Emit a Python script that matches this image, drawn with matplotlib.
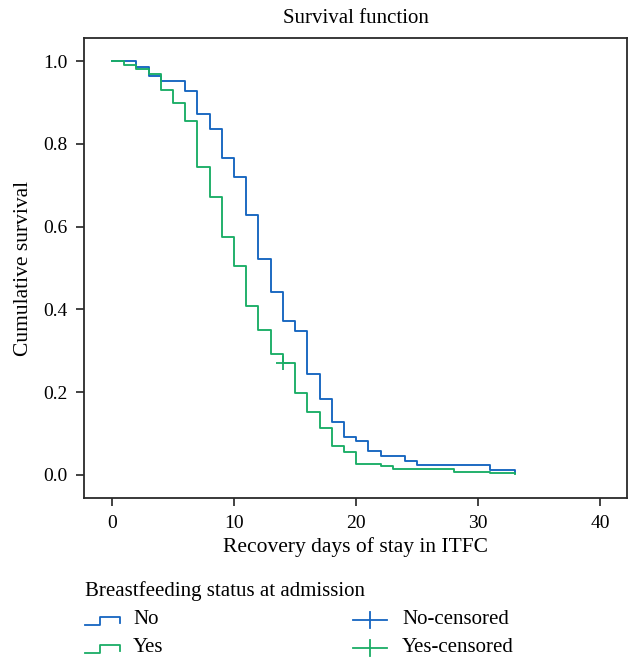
import matplotlib
matplotlib.use("Agg")
import matplotlib.pyplot as plt
from matplotlib.lines import Line2D

plt.rcParams['font.family'] = ['Liberation Serif', 'DejaVu Serif']

# Kaplan-Meier steps
days_no = [0, 2, 3, 4, 6, 7, 8, 9, 10, 11, 12, 13, 14, 15, 16, 17, 18, 19, 20, 21, 22, 24, 25, 31, 33]
surv_no = [1.0, 0.987, 0.964, 0.951, 0.929, 0.872, 0.836, 0.767, 0.720, 0.627, 0.522, 0.442, 0.372,
           0.348, 0.243, 0.184, 0.127, 0.091, 0.081, 0.057, 0.045, 0.034, 0.023, 0.012, 0.005]

days_yes = [0, 1, 2, 3, 4, 5, 6, 7, 8, 9, 10, 11, 12, 13, 14, 15, 16, 17, 18, 19, 20, 22, 23, 28, 31, 33]
surv_yes = [1.0, 0.990, 0.981, 0.968, 0.930, 0.899, 0.855, 0.745, 0.672, 0.575, 0.504, 0.408, 0.350,
            0.293, 0.271, 0.197, 0.151, 0.114, 0.070, 0.055, 0.027, 0.022, 0.014, 0.008, 0.004, 0.002]

cens_yes_day = [14]
cens_yes_surv = [0.271]

xticks = [0, 10, 20, 30, 40]
yticks = [0.0, 0.2, 0.4, 0.6, 0.8, 1.0]

blue = '#1565c0'
green = '#1aad66'

W, H = 632, 657
fig = plt.figure(figsize=(W / 100, H / 100), dpi=100)
ax = fig.add_axes([84 / W, 1 - 498 / H, (627 - 84) / W, (498 - 38) / H])

ax.step(days_no, surv_no, where='post', color=blue, lw=1.35)
ax.step(days_yes, surv_yes, where='post', color=green, lw=1.35)
ax.plot(cens_yes_day, cens_yes_surv, ls='none', marker='+', ms=10, mew=1.3, color=green)

ax.set_xlim(-2.3, 42.2)
ax.set_ylim(-0.056, 1.056)
ax.set_xticks(xticks)
ax.set_yticks(yticks)
ax.set_yticklabels([f'{v:.1f}' for v in yticks])
ax.tick_params(direction='out', length=6, width=1.2, labelsize=14, color='#222222', pad=6)
for s in ax.spines.values():
    s.set_linewidth(1.3)
    s.set_color('#2a2a2a')

ax.set_title('Survival function', fontsize=15, pad=11)
ax.set_xlabel('Recovery days of stay in ITFC', fontsize=15.5, labelpad=4)
ax.set_ylabel('Cumulative survival', fontsize=15.5, labelpad=7)

# legend drawn in figure pixels
def px(x, y):
    return x / W, 1 - y / H

fig.text(*px(85, 591), 'Breastfeeding status at admission', fontsize=15, va='center', ha='left')

for y, col, lab in [(620, blue, 'No'), (648, green, 'Yes')]:
    xs = [85, 100, 100, 120, 120]
    ys = [y + 5, y + 5, y - 3, y - 3, y + 3]
    pts = [px(a, b) for a, b in zip(xs, ys)]
    fig.add_artist(Line2D([p[0] for p in pts], [p[1] for p in pts], color=col, lw=1.3,
                          transform=fig.transFigure))
    fig.text(*px(133, y), lab, fontsize=15, va='center', ha='left')

for y, col, lab in [(620, blue, 'No-censored'), (648, green, 'Yes-censored')]:
    a, b = px(353, y)
    c, d = px(387, y)
    fig.add_artist(Line2D([a, c], [b, d], color=col, lw=1.3, transform=fig.transFigure))
    a, b = px(370, y - 8)
    c, d = px(370, y + 8)
    fig.add_artist(Line2D([a, c], [b, d], color=col, lw=1.3, transform=fig.transFigure))
    fig.text(*px(402, y), lab, fontsize=15, va='center', ha='left')

fig.savefig('out.png', dpi=100)
